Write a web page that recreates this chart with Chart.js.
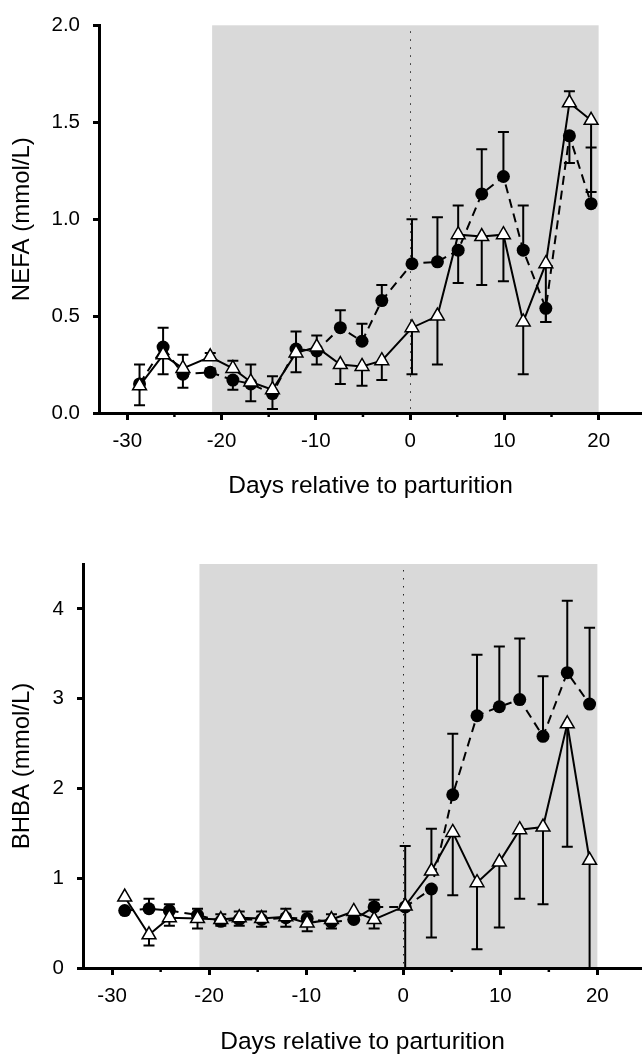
<!DOCTYPE html>
<html>
<head>
<meta charset="utf-8">
<script src="https://cdn.jsdelivr.net/npm/chart.js@4.4.1/dist/chart.umd.min.js"></script>
<style>
  html, body { margin: 0; padding: 0; background: #fff; }
  #wrap { position: relative; width: 642px; height: 1059px; }
  canvas { position: absolute; left: 0; }
</style>
</head>
<body>
<div id="wrap">
  <canvas id="nefa" width="642" height="530" style="top:0"></canvas>
  <canvas id="bhba" width="642" height="529" style="top:530px"></canvas>
</div>
<script>
// sampling days (relative to parturition)
var days = [-28.7, -26.2, -24.1, -21.2, -18.8, -16.9, -14.6, -12.1, -9.9, -7.4, -5.1, -3.0,
            0.2, 2.9, 5.1, 7.6, 9.9, 12.0, 14.4, 16.9, 19.2];
var xTicks = [-30, -25, -20, -15, -10, -5, 0, 5, 10, 15, 20];
var nefaTicks = [0, 0.5, 1, 1.5, 2];
var bhbaTicks = [0, 1, 2, 3, 4];
var shadeFrom = -21, shadeTo = 20;

// NEFA, mmol/L (end = tip of the error bar)
var nefaTriangle    = [0.14, 0.30, 0.23, 0.29, 0.23, 0.16, 0.12, 0.31, 0.34, 0.25, 0.24, 0.27,
                       0.44, 0.50, 0.92, 0.91, 0.92, 0.47, 0.77, 1.60, 1.51];
var nefaTriangleEnd = [0.04, 0.20, 0.13, 0.31, 0.27, 0.06, 0.02, 0.21, 0.25, 0.15, 0.14, 0.17,
                       0.20, 0.25, 1.07, 0.66, 0.68, 0.20, 0.47, 1.66, 1.14];
var nefaCircle      = [0.15, 0.34, 0.20, 0.21, 0.17, 0.15, 0.10, 0.33, 0.32, 0.44, 0.37, 0.58,
                       0.77, 0.78, 0.84, 1.13, 1.22, 0.84, 0.54, 1.43, 1.08];
var nefaCircleEnd   = [0.25, 0.44, 0.30, 0.23, 0.12, 0.25, 0.19, 0.42, 0.40, 0.53, 0.46, 0.66,
                       1.00, 1.01, 0.67, 1.36, 1.45, 1.07, 0.47, 1.29, 1.37];

// BHBA, mmol/L
var bhbaTriangle    = [0.79, 0.37, 0.56, 0.55, 0.54, 0.56, 0.55, 0.57, 0.50, 0.54, 0.63, 0.54,
                       0.69, 1.08, 1.51, 0.95, 1.18, 1.54, 1.57, 2.72, 1.20];
var bhbaTriangleEnd = [0.79, 0.25, 0.47, 0.44, 0.47, 0.47, 0.46, 0.46, 0.41, 0.44, 0.63, 0.44,
                       0.00, 1.55, 0.81, 0.21, 0.45, 0.77, 0.71, 1.35, 0.00];
var bhbaCircle      = [0.64, 0.66, 0.64, 0.59, 0.52, 0.54, 0.54, 0.56, 0.55, 0.51, 0.54, 0.68,
                       0.68, 0.88, 1.93, 2.81, 2.91, 2.99, 2.58, 3.29, 2.94];
var bhbaCircleEnd   = [0.64, 0.77, 0.71, 0.66, 0.60, 0.63, 0.63, 0.66, 0.63, 0.60, 0.54, 0.76,
                       1.36, 0.34, 2.61, 3.49, 3.58, 3.67, 3.25, 4.09, 3.79];

var FONT = 'Liberation Sans, Arial, Helvetica, sans-serif';

function pts(vals) {
    return vals.map(function (v, i) { return { x: days[i], y: v }; });
}

var panelPlugin = {
    id: 'panel',
    beforeDraw: function (chart) {
        var ctx = chart.ctx, x = chart.scales.x, a = chart.chartArea;
        var x0 = x.getPixelForValue(shadeFrom), x1 = x.getPixelForValue(shadeTo);
        ctx.save();
        ctx.fillStyle = '#d9d9d9';
        ctx.fillRect(x0, a.top, x1 - x0, a.bottom - a.top);
        ctx.restore();
    },
    beforeDatasetsDraw: function (chart, args, opts) {
        var ctx = chart.ctx, x = chart.scales.x, y = chart.scales.y, a = chart.chartArea;
        ctx.save();
        // dotted line at parturition
        var xz = Math.round(x.getPixelForValue(0)) + 0.5;
        ctx.strokeStyle = '#222';
        ctx.lineWidth = 1;
        ctx.setLineDash([1.5, 6.5]);
        ctx.beginPath();
        ctx.moveTo(xz, a.top + 6);
        ctx.lineTo(xz, a.bottom);
        ctx.stroke();
        ctx.setLineDash([]);
        // error bars
        ctx.strokeStyle = '#000';
        ctx.lineWidth = 2;
        opts.bars.forEach(function (b) {
            b.mean.forEach(function (m, i) {
                if (b.end[i] === m) return;
                var px = x.getPixelForValue(days[i]);
                var y0 = y.getPixelForValue(m), y1 = y.getPixelForValue(b.end[i]);
                ctx.beginPath();
                ctx.moveTo(px, y0); ctx.lineTo(px, y1);
                ctx.moveTo(px - 5.5, y1); ctx.lineTo(px + 5.5, y1);
                ctx.stroke();
            });
        });
        ctx.restore();
    },
    afterDraw: function (chart) {
        // short minor ticks on the day axis
        var ctx = chart.ctx, x = chart.scales.x, a = chart.chartArea;
        ctx.save();
        ctx.strokeStyle = '#000';
        ctx.lineWidth = 2.5;
        xTicks.forEach(function (v) {
            if (v % 10 === 0) return;
            var px = x.getPixelForValue(v);
            ctx.beginPath();
            ctx.moveTo(px, a.bottom);
            ctx.lineTo(px, a.bottom + 4);
            ctx.stroke();
        });
        ctx.restore();
    }
};

function makeChart(id, cfg) {
    var ctx = document.getElementById(id).getContext('2d');
    return new Chart(ctx, {
        type: 'scatter',
        data: {
            datasets: [
                {
                    label: 'triangle', data: pts(cfg.tri), showLine: true,
                    borderColor: '#000', borderWidth: 2, tension: 0,
                    pointStyle: 'triangle', pointRadius: 8, pointHoverRadius: 8,
                    pointBackgroundColor: '#fff', pointBorderColor: '#000', pointBorderWidth: 1.5
                },
                {
                    label: 'circle', data: pts(cfg.circ), showLine: true,
                    borderColor: '#000', borderWidth: 2, borderDash: [9, 6], tension: 0,
                    pointStyle: 'circle', pointRadius: 6.5, pointHoverRadius: 6.5,
                    pointBackgroundColor: '#000', pointBorderColor: '#000', pointBorderWidth: 0
                }
            ]
        },
        options: {
            responsive: false,
            animation: false,
            events: [],
            layout: { autoPadding: false, padding: { top: cfg.padTop, right: 0, bottom: 0, left: 0 } },
            scales: {
                x: {
                    type: 'linear', min: -33, max: 24.6,
                    afterBuildTicks: function (s) { s.ticks = xTicks.map(function (v) { return { value: v }; }); },
                    afterFit: function (s) {
                        s.height = cfg.xHeight;
                        s.paddingLeft = 0;
                        s.paddingRight = 0;
                    },
                    ticks: {
                        autoSkip: false, maxRotation: 0, padding: 9, color: '#000',
                        font: { family: FONT, size: 20.5 },
                        callback: function (v) { return v % 10 === 0 ? String(v) : ''; }
                    },
                    grid: {
                        drawOnChartArea: false, tickLength: 7, tickWidth: 3,
                        tickColor: function (c) { return c.tick && c.tick.value % 10 === 0 ? '#000' : 'rgba(0,0,0,0)'; }
                    },
                    border: { color: '#000', width: 3 },
                    title: {
                        display: true, text: 'Days relative to parturition', color: '#000',
                        font: { family: FONT, size: 24.5 }, padding: { top: 0, bottom: cfg.xTitlePad }
                    }
                },
                y: {
                    min: 0, max: cfg.yMax,
                    afterBuildTicks: function (s) { s.ticks = cfg.yTicks.map(function (v) { return { value: v }; }); },
                    afterFit: function (s) { s.width = cfg.yWidth; },
                    ticks: {
                        padding: 13, color: '#000', font: { family: FONT, size: 20.5 },
                        callback: cfg.yFmt
                    },
                    grid: { drawOnChartArea: false, tickLength: 6, tickWidth: 3, tickColor: '#000' },
                    border: { color: '#000', width: 3 },
                    title: {
                        display: true, text: cfg.yTitle, color: '#000',
                        font: { family: FONT, size: 24 }, padding: { top: 8, bottom: 0 }
                    }
                }
            },
            plugins: {
                legend: { display: false },
                tooltip: { enabled: false },
                panel: {
                    bars: [
                        { mean: cfg.circ, end: cfg.circEnd },
                        { mean: cfg.tri, end: cfg.triEnd }
                    ]
                }
            }
        },
        plugins: [panelPlugin]
    });
}

makeChart('nefa', {
    tri: nefaTriangle, triEnd: nefaTriangleEnd, circ: nefaCircle, circEnd: nefaCircleEnd,
    yMax: 2, yTicks: nefaTicks, yTitle: 'NEFA (mmol/L)',
    yFmt: function (v) { return v.toFixed(1); },
    padTop: 18, yWidth: 99, xHeight: 117, xTitlePad: 29
});

makeChart('bhba', {
    tri: bhbaTriangle, triEnd: bhbaTriangleEnd, circ: bhbaCircle, circEnd: bhbaCircleEnd,
    yMax: 4.5, yTicks: bhbaTicks, yTitle: 'BHBA (mmol/L)',
    yFmt: function (v) { return String(v); },
    padTop: 34, yWidth: 83, xHeight: 91, xTitlePad: 2
});
</script>
</body>
</html>
